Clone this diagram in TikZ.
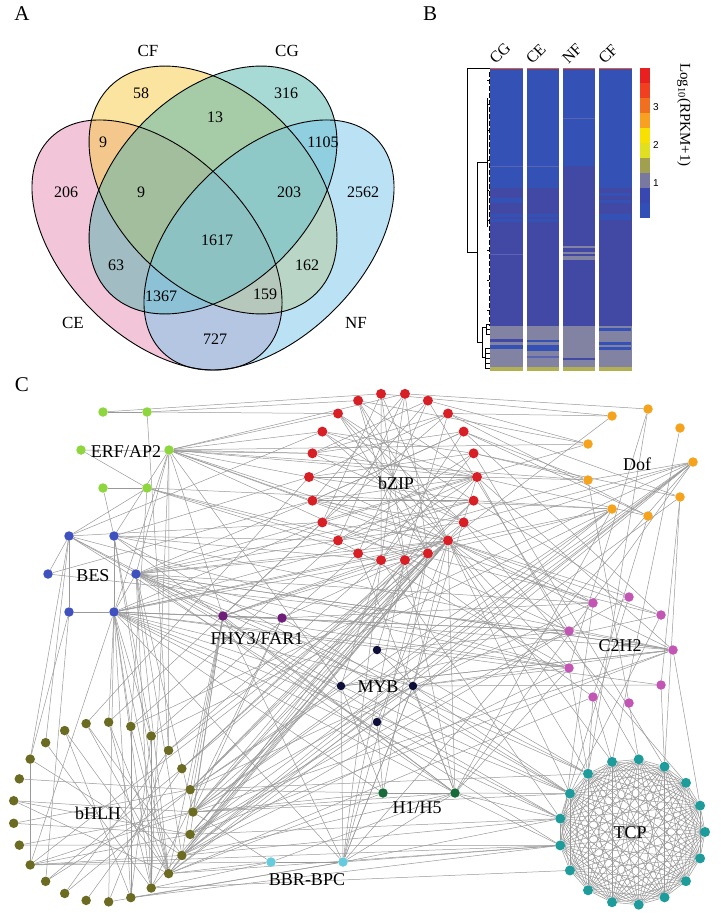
\documentclass[tikz,border=0pt]{standalone}
\usepackage{fontspec}
\setmainfont{Liberation Serif}
\newfontfamily\sansf{Liberation Sans}
\pgfdeclarelayer{bg}
\pgfdeclarelayer{edges}
\pgfsetlayers{bg,edges,main}
\definecolor{cecol}{HTML}{E78DB5}
\definecolor{cfcol}{HTML}{F7CB41}
\definecolor{cgcol}{HTML}{51B5AD}
\definecolor{nfcol}{HTML}{79C7EB}
\definecolor{hmtop}{HTML}{EE5A2A}
\definecolor{hmblue}{HTML}{3451B5}
\definecolor{hmpurp}{HTML}{4249A4}
\definecolor{hmgray}{HTML}{8282A2}
\definecolor{hmolive}{HTML}{B2B052}
\definecolor{hmlight}{HTML}{5A64B4}
\definecolor{erfc}{HTML}{8DD63E}
\definecolor{besc}{HTML}{3F51BE}
\definecolor{fhyc}{HTML}{6E1E78}
\definecolor{bzipc}{HTML}{D91F26}
\definecolor{dofc}{HTML}{F5A21C}
\definecolor{czc}{HTML}{C355B4}
\definecolor{mybc}{HTML}{0E0E3A}
\definecolor{hhc}{HTML}{1A6B3A}
\definecolor{bhlhc}{HTML}{6B6B22}
\definecolor{bbrc}{HTML}{66CCDD}
\definecolor{tcpc}{HTML}{1E9C9C}
\definecolor{cb1}{HTML}{E82020}
\definecolor{cb2}{HTML}{F04020}
\definecolor{cb3}{HTML}{F07020}
\definecolor{cb4}{HTML}{F8A020}
\definecolor{cb5}{HTML}{F8E000}
\definecolor{cb6}{HTML}{E0E020}
\definecolor{cb7}{HTML}{A0A050}
\definecolor{cb8}{HTML}{7878A0}
\definecolor{cb9}{HTML}{3848B0}
\definecolor{cb10}{HTML}{3050B8}
\begin{document}
\begin{tikzpicture}[x=1pt,y=-1pt,
  vnum/.style={font=\fontsize{16}{18}\selectfont,inner sep=0pt},
  vlab/.style={font=\fontsize{17}{19}\selectfont,inner sep=0pt},
  panel/.style={font=\fontsize{21}{24}\selectfont,inner sep=0pt},
  netlab/.style={font=\fontsize{18}{20}\selectfont,inner sep=0pt},
  gnode/.style={circle,inner sep=0pt,minimum size=9.5pt},
  edge/.style={draw=black!40,line width=0.5pt},
  vline/.style={draw=black,line width=0.9pt},
  dendro/.style={draw=black,line width=0.6pt},
]
\useasboundingbox (0,0) rectangle (720,917);
\begin{pgfonlayer}{bg}
\fill[white] (0,0) rectangle (720,917);
\end{pgfonlayer}

% ---------------- Panel A : Venn ----------------
\node[panel] (pA) at (22,14) {A};
\fill[cecol,fill opacity=0.5,rotate around={-45:(157,245)}] (157,245) ellipse [x radius=151,y radius=92];
\fill[cfcol,fill opacity=0.5,rotate around={-45:(213,190)}] (213,190) ellipse [x radius=146,y radius=97];
\fill[cgcol,fill opacity=0.5,rotate around={45:(213,190)}] (213,190) ellipse [x radius=146,y radius=97];
\fill[nfcol,fill opacity=0.5,rotate around={45:(269,245)}] (269,245) ellipse [x radius=151,y radius=92];
\draw[vline,rotate around={-45:(157,245)}] (157,245) ellipse [x radius=151,y radius=92];
\draw[vline,rotate around={-45:(213,190)}] (213,190) ellipse [x radius=146,y radius=97];
\draw[vline,rotate around={45:(213,190)}] (213,190) ellipse [x radius=146,y radius=97];
\draw[vline,rotate around={45:(269,245)}] (269,245) ellipse [x radius=151,y radius=92];
\node[vlab] (lCF) at (148,51) {CF};
\node[vlab] (lCG) at (287,51) {CG};
\node[vlab] (lCE) at (73,323) {CE};
\node[vlab] (lNF) at (356,323) {NF};
\foreach \x/\y/\t/\n in {141/93/58/a1, 286/93/316/a2, 215/117/13/a3, 103/142/9/a4, 323/142/1105/a5,
  66/192/206/a6, 141/192/9/a7, 289/192/203/a8, 363/192/2562/a9, 217/240/1617/a10,
  116/265/63/a11, 307/265/162/a12, 161/296/1367/a13, 265/294/159/a14, 215/339/727/a15}
  \node[vnum] (\n) at (\x,\y) {\t};

% ---------------- Panel B : heatmap ----------------
\node[panel] (pB) at (430,14) {B};
\foreach \cx/\nm in {490/CG,526.5/CE,562.5/NF,599/CF}{
  \fill[hmblue] (\cx,69.5) rectangle (\cx+32.5,188);
  \fill[hmpurp] (\cx,188) rectangle (\cx+32.5,326);
  \fill[hmgray] (\cx,326) rectangle (\cx+32.5,367);
  \fill[hmolive] (\cx,367) rectangle (\cx+32.5,371);
  \fill[hmtop] (\cx,67.7) rectangle (\cx+32.5,69.5);
  \node[font=\fontsize{16}{18}\selectfont,rotate=45,anchor=south west,inner sep=0pt] (col\nm) at (\cx+6,65) {\nm};
}
% column specific stripes
\fill[hmlight] (490,166) rectangle (522.5,167);
\fill[hmblue] (490,198) rectangle (522.5,203);
\fill[hmblue] (490,214) rectangle (522.5,217);
\fill[hmblue] (490,219) rectangle (522.5,222);
\fill[hmlight] (490,254) rectangle (522.5,255);
\fill[hmpurp] (490,339) rectangle (522.5,342);
\fill[hmblue] (490,345) rectangle (522.5,349);
\fill[hmlight] (526.5,166) rectangle (559,167);
\fill[hmblue] (526.5,172) rectangle (559,175);
\fill[hmblue] (526.5,214) rectangle (559,217);
\fill[hmblue] (526.5,219) rectangle (559,222);
\fill[hmblue] (526.5,340) rectangle (559,342);
\fill[hmblue] (526.5,345) rectangle (559,351);
\fill[hmlight] (526.5,356) rectangle (559,358);
\fill[hmpurp] (562.5,166) rectangle (595,188);
\fill[hmlight] (562.5,118) rectangle (595,119);
\fill[hmgray] (562.5,246) rectangle (595,247.5);
\fill[hmgray] (562.5,252) rectangle (595,254);
\fill[hmgray] (562.5,256) rectangle (595,260);
\fill[hmpurp] (562.5,358) rectangle (595,360);
\fill[hmblue] (599,193) rectangle (631,196);
\fill[hmblue] (599,200) rectangle (631,203);
\fill[hmblue] (599,214) rectangle (631,220);
\fill[hmblue] (599,328) rectangle (631,331);
\fill[hmblue] (599,342) rectangle (631,345);
\fill[hmblue] (599,347) rectangle (631,350);
% dendrogram
\draw[dendro] (490,68) -- (467,68) -- (467,252) -- (477,252);
\draw[dendro] (477,162) -- (477,342);
\draw[dendro] (477,162) -- (487,162);
\draw[dendro] (487,98) -- (487,227);
\draw[dendro,dash pattern=on 5pt off 2pt] (489,72) -- (489,326);
\foreach \yy in {80,104,130,160,190,220,250,280,310}
  \draw[dendro] (487,\yy) -- (489,\yy);
\draw[dendro] (477,342) -- (482,342);
\draw[dendro] (482,327) -- (482,357);
\draw[dendro] (482,327) -- (486,327) (486,324) -- (486,334);
\foreach \yy in {324,329,334} \draw[dendro] (486,\yy) -- (490,\yy);
\draw[dendro] (482,357) -- (485,357) (485,348) -- (485,368);
\foreach \yy in {348,353,358,363,368} \draw[dendro] (485,\yy) -- (490,\yy);
% colour bar
\foreach \i in {1,...,10}
  \fill[cb\i] (640,{67.7+15*(\i-1)}) rectangle (650,{67.7+15*\i});
\node[font=\sansf\fontsize{10}{12}\selectfont,inner sep=0pt] (t3) at (656,107) {3};
\node[font=\sansf\fontsize{10}{12}\selectfont,inner sep=0pt] (t2) at (656,145) {2};
\node[font=\sansf\fontsize{10}{12}\selectfont,inner sep=0pt] (t1) at (656,183) {1};
\node[font=\fontsize{15}{17}\selectfont,rotate=-90,inner sep=0pt] (leg) at (684,115) {Log\textsubscript{10}(RPKM+1)};

% ---------------- Panel C : network ----------------
\node[panel] (pC) at (22,385) {C};
% ERF/AP2
\foreach \n/\x/\y in {e1/103/412, e2/147/412, e3/81/450, e4/169/450, e5/103/488, e6/147/488}
  \node[gnode,fill=erfc] (\n) at (\x,\y) {};
% BES
\foreach \n/\x/\y in {s1/69/536, s2/114/536, s3/48/574, s4/136/574, s5/69/612, s6/114/612}
  \node[gnode,fill=besc] (\n) at (\x,\y) {};
% FHY3/FAR1
\node[gnode,fill=fhyc] (f1) at (223,616) {};
\node[gnode,fill=fhyc] (f2) at (282,618) {};
% MYB
\foreach \n/\x/\y in {m1/377/650, m2/341/686, m3/413/686, m4/377/722}
  \node[gnode,fill=mybc,minimum size=8.5pt] (\n) at (\x,\y) {};
% H1/H5
\node[gnode,fill=hhc] (h1) at (383,793) {};
\node[gnode,fill=hhc] (h2) at (455,793) {};
% BBR-BPC
\node[gnode,fill=bbrc] (r1) at (271,862) {};
\node[gnode,fill=bbrc] (r2) at (343,862) {};
% Dof
\foreach \n/\x/\y in {d1/612/416, d2/648/409, d3/680/428, d4/588/444, d5/693/462, d6/588/480, d7/680/497, d8/612/509, d9/648/516}
  \node[gnode,fill=dofc] (\n) at (\x,\y) {};
% C2H2
\foreach \n/\x/\y in {c1/593/603, c2/629/597, c3/661/615, c4/569/631, c5/673/650, c6/569/668, c7/593/697, c8/629/703, c9/661/685}
  \node[gnode,fill=czc] (\n) at (\x,\y) {};
% bZIP circle
\foreach \k in {0,...,21}
  \node[gnode,fill=bzipc,minimum size=10pt] (z\k) at ({393+84*cos(360*\k/22)},{477-84*sin(360*\k/22)}) {};
% TCP circle
\foreach \k in {0,...,16}
  \node[gnode,fill=tcpc,minimum size=10pt] (t\k) at ({632+73*cos(360*\k/17)},{832-73*sin(360*\k/17)}) {};
% bHLH circle
\foreach \k in {0,...,24}
  \node[gnode,fill=bhlhc] (b\k) at ({103+90*cos(360*\k/25)},{812-90*sin(360*\k/25)}) {};

% labels
\node[netlab] (lERF) at (126,452) {ERF/AP2};
\node[netlab] (lBES) at (93,576) {BES};
\node[netlab] (lFHY) at (257,639) {FHY3/FAR1};
\node[netlab] (lbZIP) at (396,483) {bZIP};
\node[netlab] (lDof) at (637,464) {Dof};
\node[netlab] (lC2H2) at (620,646) {C2H2};
\node[netlab] (lMYB) at (378,687) {MYB};
\node[netlab] (lH) at (417,808) {H1/H5};
\node[netlab] (lbHLH) at (98,813) {bHLH};
\node[netlab] (lBBR) at (307,880) {BBR-BPC};
\node[netlab] (lTCP) at (630,833) {TCP};

\begin{pgfonlayer}{edges}
% TCP: dense clique
\foreach \i in {0,...,15}{
  \pgfmathtruncatemacro{\jst}{\i+1}
  \foreach \j in {\jst,...,16}{\draw[edge] (t\i) -- (t\j);}
}
% bZIP internal
\foreach \a/\b in {z0/z11,z0/z12,z0/z13,z0/z14,z0/z10,z0/z15,z21/z11,z21/z12,z21/z14,z20/z12,z20/z10,
  z19/z11,z19/z12,z19/z13,z19/z9,z19/z8,z19/z7,z19/z16,z19/z15,z1/z11,z1/z14,z2/z12,z3/z13,z4/z15,
  z4/z10,z5/z14,z5/z16,z6/z17,z6/z13,z7/z17,z7/z18,z8/z18,z8/z20,z9/z20,z9/z1,z10/z2,z10/z3,z6/z16,
  z13/z18,z3/z17,z2/z16,z5/z12,z4/z13,z8/z21,z9/z0,z11/z3,z12/z2,z14/z20,z6/z19,z5/z18,z7/z0,z16/z1}
  \draw[edge] (\a) -- (\b);
% bZIP to others
\foreach \a/\b in {z19/b0,z19/b1,z19/b23,z19/b24,z19/b22,z19/b21,z19/b2,z19/f1,z19/s6,z19/s4,z19/c1,
  z19/c2,z19/c3,z19/c4,z19/c5,z19/c6,z19/t5,z19/t6,z19/t7,z19/h2,z19/m3,z19/e4,z19/d1,z19/b15,
  z18/b0,z18/b24,z18/b23,z18/b1,z18/f1,z18/s6,z18/r2,z18/h1,z17/b22,z17/b2,z17/m1,z17/r2,
  z16/b3,z16/m2,z16/s2,z15/b4,z15/s4,z15/e6,z14/s4,z14/e6,z14/s2,z14/b5,z13/s6,z13/b6,z13/s1,
  z12/s4,z12/e4,z12/s3,z11/e4,z11/s2,z11/b7,z10/e4,z10/e3,z9/e4,z9/s1,z8/e4,z8/e2,z7/e2,z7/d4,
  z6/e1,z6/d1,z5/d2,z5/e4,z4/d4,z4/c4,z3/d1,z3/d7,z3/d9,z2/d6,z2/d9,z2/c3,z1/d6,z1/d7,z1/t3,
  z0/d9,z0/d6,z0/m3,z0/c5,z0/b0,z0/t4,z21/d8,z21/c2,z21/b1,z21/s4,z20/d5,z20/c1,z20/b24,z20/t2,
  z17/c7,z16/t8,z15/h2,z14/c6}
  \draw[edge] (\a) -- (\b);
% ERF/AP2 and BES
\foreach \a/\b in {e1/e2,e5/e6,e3/e6,e4/s2,e4/s4,e4/s6,e4/f1,e4/b3,e4/m2,e4/d4,e4/c4,e4/z0,e2/b3,
  e5/s2,e6/s1,e4/b21,e6/b5,s5/s6,s1/s3,s1/s5,s1/f1,s1/m2,s1/b9,s1/b10,s2/s6,s2/b4,s2/b22,s2/t7,
  s3/c4,s4/s6,s4/b0,s4/b22,s4/b21,s4/b23,s4/f2,s4/c5,s4/m3,s4/h2,s4/t8,s6/b4,s6/b5,s6/b6,s6/b19,
  s6/b20,s6/b21,s6/b22,s6/b15,s6/f1,s6/f2,s6/c4,s6/c6,s6/m2,s6/m3,s6/h1,s6/h2,s6/t7,s6/t8,s6/r2,
  s6/d6,s5/b10,s5/b16,s4/c6,s4/c1,s2/c5,e4/c1,e4/d6,e6/d8,s6/c9,s4/t6,s2/h2,e6/c3,s1/t9}
  \draw[edge] (\a) -- (\b);
% FHY3, MYB, H1/H5, BBR
\foreach \a/\b in {f1/f2,f1/b0,f1/b23,f1/b22,f1/b24,f1/b1,f1/z16,f2/z17,f2/c5,f1/c4,f2/t7,f1/h2,
  f2/b0,f2/b21,f1/z13,m1/m3,m1/b0,m1/t6,m1/c4,m2/h1,m2/b1,m2/c5,m2/t7,m3/r2,m3/c5,m3/c6,m3/t6,
  m3/t7,m3/h2,m3/b23,m3/b0,m4/b24,m4/t8,m4/z19,m4/h1,m4/d5,h1/h2,b1/h1,h2/t7,h2/t8,h2/t9,h2/b23,
  h2/b0,h2/d5,h2/d8,h2/c6,h2/r1,h2/z17,h1/b22,r1/r2,r1/b22,r1/b21,r1/b0,r2/b20,r2/b19,r2/m2,
  r2/z16,r2/f1,r2/t9,r2/t8,r2/d5,r2/m3,r2/h2,f2/c1,f1/c6,m2/c3}
  \draw[edge] (\a) -- (\b);
% Dof and C2H2
\foreach \a/\b in {d5/d6,d5/b22,d5/b0,d5/b23,d5/b24,d5/z19,d8/b23,d8/b0,d8/b1,d8/z18,d8/s6,
  d7/c9,d2/t6,d3/t5,d9/c7,d6/c8,d4/s4,d2/c6,d7/t3,c4/c5,c5/s4,c5/b0,c5/b24,c5/m2,c5/t1,
  c6/t6,c7/t6,c7/t5,c8/t4,c9/t3,c2/t8,c1/t9,c3/t7,c6/s1,c4/b23,c9/m3,b4/d8,b5/d5}
  \draw[edge] (\a) -- (\b);
% bHLH
\foreach \a/\b in {b10/b15,b15/b0,b15/b23,b15/b24,b15/r1,b15/t9,b14/t9,b7/b22,b6/b22,b6/b21,
  b5/b20,b5/b22,b4/b21,b11/b1,b13/b24,b9/b21,b16/b1,b17/b1,b18/b2,b19/b3,b20/b4,b22/b8,
  b23/b7,b24/b12,b0/b12,b3/b17,b2/b16,b8/b20,b12/b22,b10/b23,b14/b0,b1/b13,b22/t9,b23/t8,
  b21/t10,b0/t7,b24/t8,b1/t6,b20/t9,b0/h1,b23/c6,b22/c7,b1/c1,b24/c2,b2/z21,b3/z20,b22/d7}
  \draw[edge] (\a) -- (\b);
\end{pgfonlayer}
\end{tikzpicture}
\end{document}
